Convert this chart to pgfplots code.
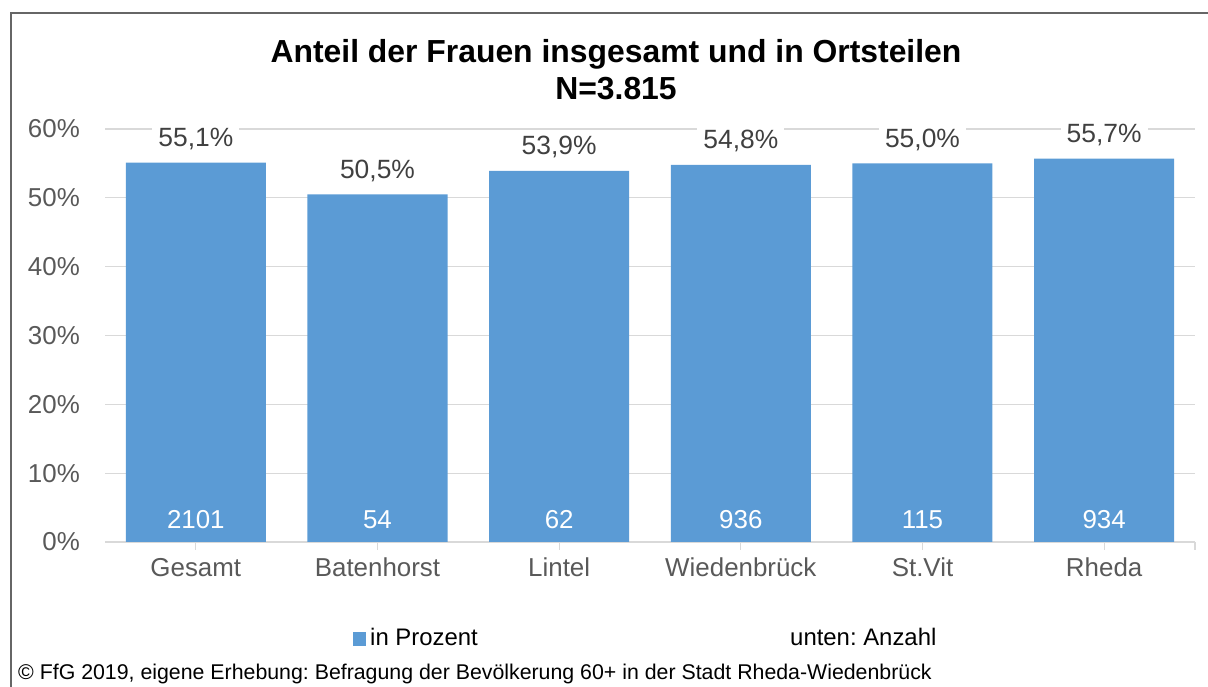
\documentclass[border=0pt]{standalone}
\usepackage{pgfplots}
\pgfplotsset{compat=1.18}
\usepackage{fontspec}
\setmainfont{Liberation Sans}
\frenchspacing
\definecolor{barblue}{HTML}{5B9BD5}
\definecolor{gridgray}{HTML}{D9D9D9}
\definecolor{ticktext}{HTML}{595959}
\definecolor{labeltext}{HTML}{404040}
\begin{document}
\begin{tikzpicture}[x=1bp,y=1bp]
\path[use as bounding box] (0,0) rectangle (1208,687);
\draw[black!60, line width=1.2bp] (11,-2) -- (11,674) -- (1210,674);
\node[font=\fontsize{32}{37}\selectfont\bfseries, anchor=base] at (616,624) {Anteil der Frauen insgesamt und in Ortsteilen};
\node[font=\fontsize{32}{37}\selectfont\bfseries, anchor=base] at (616,587) {N=3.815};
\begin{axis}[
  at={(105bp,145bp)}, anchor=south west,
  scale only axis, width=1090bp, height=413bp,
  xmin=-0.5, xmax=5.5, ymin=0, ymax=60,
  ytick={0,10,...,60},
  yticklabel={\pgfmathprintnumber{\tick}\%},
  xtick={0,1,2,3,4,5},
  xticklabels={Gesamt,Batenhorst,Lintel,Wiedenbrück,St.Vit,Rheda},
  extra x ticks={5.5}, extra x tick labels={},
  ymajorgrids, grid style={gridgray, line width=1.3bp},
  axis x line*=bottom, x axis line style={gridgray, line width=1.3bp},
  axis y line*=left, y axis line style={draw=none},
  ytick style={draw=none},
  xtick style={gridgray, line width=1.3bp},
  tick align=outside, major tick length=8bp,
  /pgf/number format/assume math mode=true,
  ticklabel style={font=\fontsize{26}{31}\selectfont, color=ticktext},
  yticklabel style={inner sep=0pt, xshift=-17bp},
  xticklabel style={inner sep=0pt, yshift=-8bp},
  clip=false,
]
\addplot[ybar, bar width=140bp, fill=barblue, draw=none,
  nodes near coords={\pgfmathprintnumber[fixed,fixed zerofill,precision=1,use comma]{\pgfplotspointmeta}\%},
  every node near coord/.style={anchor=base, yshift=16bp, fill=white, inner sep=6bp,
    font=\fontsize{26.5}{31}\selectfont, text=labeltext, /pgf/number format/assume math mode=true}]
  coordinates {(0,55.1) (1,50.5) (2,53.9) (3,54.8) (4,55.0) (5,55.7)};
\addplot[draw=none, mark=none, nodes near coords, point meta=explicit symbolic,
  every node near coord/.style={anchor=base, yshift=13bp, inner sep=0pt,
    font=\fontsize{26}{31}\selectfont, text=white}]
  coordinates {(0,0) [2101] (1,0) [54] (2,0) [62] (3,0) [936] (4,0) [115] (5,0) [934]};
\end{axis}
\fill[barblue] (353,41) rectangle (366,55);
\node[font=\fontsize{24}{29}\selectfont, anchor=base west, inner sep=0pt] at (370,41) {in Prozent};
\node[font=\fontsize{24}{29}\selectfont, anchor=base west, inner sep=0pt] at (790,41) {unten: Anzahl};
\node[font=\fontsize{21.4}{25}\selectfont, anchor=base west, inner sep=0pt] at (18,7) {© FfG 2019, eigene Erhebung: Befragung der Bevölkerung 60+ in der Stadt Rheda-Wiedenbrück};
\end{tikzpicture}
\end{document}
